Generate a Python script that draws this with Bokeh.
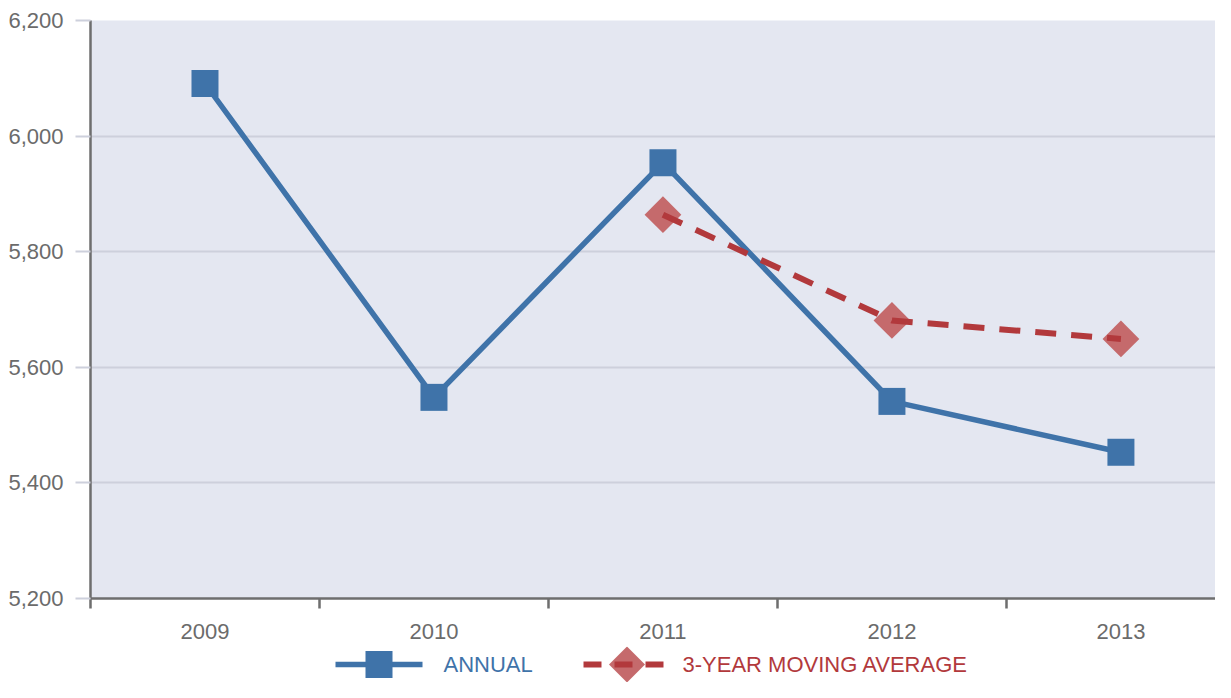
import math
from bokeh.plotting import figure
from bokeh.layouts import column
from bokeh.models import Range1d, FixedTicker, SingleIntervalTicker, NumeralTickFormatter
from bokeh.core.properties import value
from bokeh.embed import file_html
from bokeh.resources import INLINE

# ---- data ----
years = [2009, 2010, 2011, 2012, 2013]
annual = [6091, 5548, 5954, 5541, 5453]
ma_years = [2011, 2012, 2013]
moving_avg = [5864, 5681, 5649]
label_annual = "ANNUAL"
label_ma = "3-YEAR MOVING AVERAGE"

# ---- style ----
FONT = "Liberation Sans"
FS = "22px"
BLUE = "#3f73a9"
RED = "#b2393c"
RED_FILL = "#c56a6c"
AXIS = "#6e6e6e"
TXT = "#6b6b6b"
GRID = "#cdd0dc"
W = 1215
LEFT = 90

p = figure(width=W, height=646, output_backend="svg", toolbar_location=None,
           x_range=Range1d(years[0] - 0.5, years[-1] + 0.413),
           y_range=Range1d(5200, 6200),
           min_border_left=LEFT, min_border_right=0, min_border_top=20, min_border_bottom=48)
p.background_fill_color = "#e4e7f1"
p.border_fill_color = "white"
p.outline_line_color = None

p.xgrid.grid_line_color = None
p.ygrid.grid_line_color = GRID
p.ygrid.grid_line_width = 2

# y axis
p.yaxis.ticker = SingleIntervalTicker(interval=200)
p.yaxis.formatter = NumeralTickFormatter(format="0,0")
p.yaxis.axis_line_color = AXIS
p.yaxis.axis_line_width = 2.5
p.yaxis.major_tick_line_color = GRID
p.yaxis.major_tick_line_width = 2
p.yaxis.major_tick_out = 15
p.yaxis.major_tick_in = 0
p.yaxis.minor_tick_line_color = None
p.yaxis.major_label_standoff = 12
p.yaxis.major_label_text_font = FONT
p.yaxis.major_label_text_font_size = FS
p.yaxis.major_label_text_color = TXT

# x axis: labels at the years, ticks at the band boundaries
p.xaxis.ticker = FixedTicker(ticks=years,
                             minor_ticks=[y - 0.5 for y in years] + [years[-1] + 0.5])
p.xaxis.axis_line_color = AXIS
p.xaxis.axis_line_width = 2.5
p.xaxis.major_tick_line_color = None
p.xaxis.major_tick_out = 0
p.xaxis.major_tick_in = 0
p.xaxis.minor_tick_line_color = AXIS
p.xaxis.minor_tick_line_width = 2.5
p.xaxis.minor_tick_out = 10
p.xaxis.minor_tick_in = 0
p.xaxis.major_label_standoff = 15
p.xaxis.major_label_text_font = FONT
p.xaxis.major_label_text_font_size = FS
p.xaxis.major_label_text_color = TXT

# series
line_kw = dict(line_color=BLUE, line_width=5.5)
sq_kw = dict(marker="square", size=27, fill_color=BLUE, line_color=None)
dia_kw = dict(marker="square", angle=math.pi / 4, size=26, fill_color=RED_FILL, line_color=None)

p.line(years, annual, **line_kw)
p.scatter(years, annual, **sq_kw)
p.scatter(ma_years, moving_avg, **dia_kw)
p.line(ma_years, moving_avg, line_color=RED, line_width=6, line_dash="21 15")

# ---- legend strip (pixel-unit figure; its frame aligns with the main frame) ----
LH = 36
lf = figure(width=W, height=LH, output_backend="svg", toolbar_location=None,
            x_axis_type=None, y_axis_type=None,
            x_range=Range1d(LEFT, W), y_range=Range1d(0, LH),
            min_border=0, min_border_left=LEFT, min_border_right=0,
            min_border_top=0, min_border_bottom=0)
lf.outline_line_color = None
lf.xgrid.visible = False
lf.ygrid.visible = False
lf.border_fill_color = "white"
lf.background_fill_color = "white"

KEY_Y = 18
# ANNUAL key
lf.line([335, 422], [KEY_Y, KEY_Y], **line_kw)
lf.scatter([378.5], [KEY_Y], **sq_kw)
lf.text([443], [KEY_Y], text=[label_annual], text_color=BLUE, text_font=value(FONT),
        text_font_size=value(FS), text_baseline="middle", text_align="left")
# 3-year moving average key
lf.scatter([626.5], [KEY_Y], marker="square", angle=math.pi / 4, size=25.5,
           fill_color=RED_FILL, line_color=None)
lf.line([583, 663], [KEY_Y, KEY_Y], line_color=RED, line_width=6, line_dash="18 13")
lf.text([682], [KEY_Y], text=[label_ma], text_color=RED, text_font=value(FONT),
        text_font_size=value(FS), text_baseline="middle", text_align="left")

layout = column(p, lf, spacing=0)
open("out.html", "w").write(file_html(layout, INLINE))
